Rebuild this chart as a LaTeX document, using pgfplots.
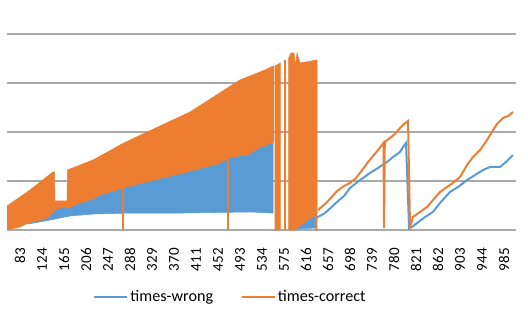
\documentclass[border=0pt]{standalone}
\usepackage{fontspec}
\setmainfont{Carlito}
\usepackage{pgfplots}
\pgfplotsset{compat=1.18}
\definecolor{exblue}{HTML}{5B9BD5}
\definecolor{exorange}{HTML}{ED7D31}
\definecolor{gridgray}{HTML}{A9A9A9}
\begin{document}
\begin{tikzpicture}
\begin{axis}[
  at={(0,0)}, anchor=south west,
  scale only axis, width=381.75pt, height=147pt,
  xmin=58.8, xmax=1007.3, ymin=0, ymax=200,
  xtick={83,124,...,985},
  ytick={0,50,...,200}, yticklabels={},
  ymajorgrids, grid style={gridgray, line width=0.9pt},
  axis line style={draw=none},
  tick style={draw=none},
  /pgf/number format/assume math mode=true,
  xticklabel style={rotate=90, anchor=east, inner sep=0pt, font=\fontsize{11.3}{13}\selectfont},
  xticklabel shift=13.5pt,
  legend style={at={(0.169,-0.342)}, anchor=west, draw=none, fill=none, inner sep=0pt, outer sep=0pt,
    font=\fontsize{12.1}{15}\selectfont, legend columns=2,
    /tikz/every even column/.append style={column sep=19pt},
    nodes={inner sep=1.5pt}},
  legend image code/.code={\draw[#1, line width=1.6pt] (0pt,0pt) -- (25pt,0pt);},
]
% times-wrong body (dense oscillation region)
\addplot[forget plot, fill=exblue, draw=exblue, line width=0.4pt] coordinates {
(97.9,7.1) (129.6,11.2) (138.9,14.3) (148.2,20.4) (161.3,23.5) (172.5,22.4) (194.8,27.6)
(219.0,31.6) (232.1,35.7) (282.4,43.9) (325.3,50.0) (386.8,58.2) (450.1,67.3) (466.9,71.4)
(470.6,73.5) (511.6,77.6) (520.9,81.6) (554.5,89.8)
(554.5,17.3) (511.6,18.4) (381.2,17.3) (288.0,17.3) (219.0,16.3) (176.2,14.3) (148.2,11.2)
(129.6,9.2) (97.9,6.1)} -- cycle;
\addplot[forget plot, fill=exblue, draw=exblue, line width=0.4pt] coordinates {
(599.2,2.0) (615.0,8.2) (633.2,15.3) (633.2,2.0) (615.0,1.5) (599.2,1.0)} -- cycle;
% times-wrong line
\addplot[exblue, line width=1.5pt] coordinates {
(636.5,12.2) (638.4,13.3) (651.4,17.3) (673.8,28.6) (686.8,34.7) (698.0,42.9) (716.6,51.0)
(735.3,58.2) (750.2,63.3) (767.0,69.4) (778.1,74.5) (791.2,79.6) (796.8,84.7) (802.4,88.8)
(808.0,2.0) (813.5,3.1) (822.9,7.1) (837.8,13.3) (852.7,18.4) (865.7,27.6) (884.3,38.8)
(899.2,43.9) (916.0,51.0) (930.9,56.1) (945.8,61.2) (958.8,64.3) (977.5,64.3) (990.6,70.4)
(1001.7,76.5)};
\addlegendentry{times-wrong}
% times-correct body pieces
\addplot[forget plot, fill=exorange, draw=exorange, line width=0.4pt] coordinates {
(58.8,24.5) (101.6,40.8) (144.5,59.2) (147.3,59.2) (148.2,29.6) (170.6,29.6) (171.5,61.2)
(185.5,64.3) (219.0,71.4) (269.4,86.7) (288.0,91.8) (399.8,120.4) (492.8,153.1) (520.9,159.2)
(539.6,163.3) (554.5,167.3) (555.4,167.3)
(555.4,89.8) (520.9,81.6) (511.6,77.6) (470.6,73.5) (466.9,71.4) (450.1,67.3) (386.8,58.2)
(325.3,50.0) (282.4,43.9) (232.1,35.7) (219.0,31.6) (194.8,27.6) (172.5,22.4) (161.3,23.5)
(148.2,20.4) (138.9,14.3) (129.6,11.2) (97.9,7.1) (83.0,3.1) (58.8,0)} -- cycle;
\addplot[forget plot, fill=exorange, draw=exorange, line width=0.4pt] coordinates {
(558.2,0) (558.2,167.3) (568.4,170.4) (568.4,0)} -- cycle;
\addplot[forget plot, exorange, line width=1.5pt] coordinates {(575.9,0) (575.9,173.5)};
\addplot[forget plot, fill=exorange, draw=exorange, line width=0.4pt] coordinates {
(583.4,0) (583.4,175.5) (588.0,180.6) (593.6,180.6) (596.4,167.3) (599.2,180.6) (604.8,170.4)
(636.5,173.5) (636.5,0) (634.1,0) (633.2,15.3) (615.0,8.2) (599.2,2.0) (597.5,0)} -- cycle;
% spikes down to zero inside the body
\addplot[forget plot, exorange, line width=1.4pt] coordinates {(275,44) (275,0)};
\addplot[forget plot, exorange, line width=1.4pt] coordinates {(470,74) (470,0)};
% times-correct line
\addplot[exorange, line width=1.5pt] coordinates {
(638.4,20.4) (651.4,26.5) (660.7,31.6) (673.8,39.8) (686.8,44.9) (698.0,48.0) (709.2,53.1)
(722.2,62.2) (731.6,69.4) (740.9,75.5) (750.2,81.6) (760.4,88.8) (761.4,2.0) (762.8,89.8)
(772.5,93.9) (781.8,98.0) (791.2,104.1) (798.6,108.2) (806.1,111.2) (809.8,3.1) (815.4,13.3)
(828.4,18.4) (841.5,23.5) (852.7,30.6) (865.7,38.8) (878.8,43.9) (889.9,48.0) (903.0,54.1)
(916.0,66.3) (927.2,74.5) (940.3,81.6) (953.3,91.8) (964.5,102.0) (972.0,108.2) (983.1,114.3)
(992.4,116.3) (1001.7,120.4)};
\addlegendentry{times-correct}
\end{axis}
\pgfresetboundingbox
\path[use as bounding box] (-5.25pt,-69pt) rectangle (390.75pt,172.5pt);
\end{tikzpicture}
\end{document}
